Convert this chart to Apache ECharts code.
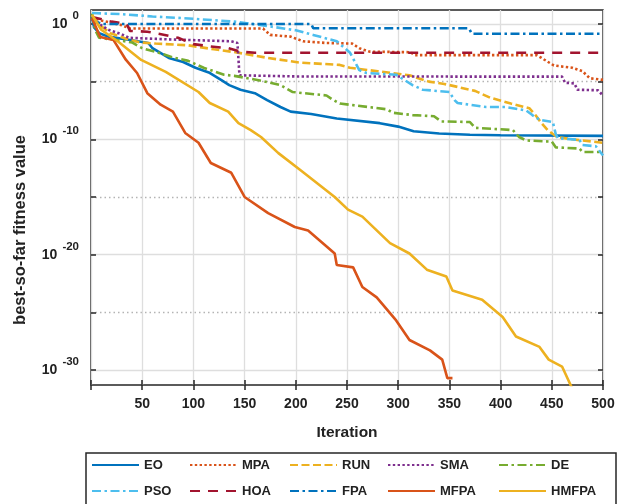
<!DOCTYPE html>
<html>
<head>
<meta charset="utf-8">
<title>Convergence curves</title>
<script src="https://cdn.jsdelivr.net/npm/echarts@6/dist/echarts.min.js"></script>
<style>
  html, body { margin: 0; padding: 0; background: #fff; }
  #chart { width: 619px; height: 504px; }
</style>
</head>
<body>
<div id="chart"></div>
<script>
// [iteration, log10(best-so-far fitness)]
const EO = [[1,0.6],[3,-0.3],[8,-0.8],[17,-1.1],[35,-1.35],[56,-1.65],[60,-2.1],[76,-2.95],[90,-3.3],[102,-3.8],[115,-4.2],[127,-4.85],[135,-5.3],[146,-5.7],[160,-6.0],[172,-6.6],[185,-7.2],[195,-7.6],[215,-7.8],[240,-8.2],[282,-8.6],[300,-8.9],[315,-9.3],[340,-9.5],[370,-9.6],[400,-9.65],[500,-9.7]];
const MPA = [[1,0.6],[10,0.3],[30,-0.1],[38,-0.4],[168,-0.4],[175,-0.95],[195,-1.1],[207,-1.5],[230,-1.65],[255,-1.7],[262,-2.1],[272,-2.4],[312,-2.45],[316,-2.7],[435,-2.7],[440,-2.95],[452,-3.6],[470,-3.8],[480,-4.1],[487,-4.7],[500,-4.85]];
const RUN = [[1,0.5],[10,-0.2],[19,-0.8],[35,-1.3],[48,-1.6],[63,-1.7],[95,-1.85],[120,-2.2],[141,-2.45],[173,-2.95],[204,-3.35],[243,-3.55],[253,-3.8],[280,-4.1],[311,-4.45],[330,-5.0],[345,-5.2],[360,-5.5],[375,-5.8],[390,-6.4],[410,-6.9],[428,-7.3],[434,-7.9],[440,-8.6],[446,-9.2],[455,-9.8],[470,-10.0],[500,-10.3]];
const SMA = [[1,0.4],[8,0.0],[17,-0.5],[30,-0.9],[37,-1.2],[80,-1.35],[137,-1.5],[143,-1.65],[145,-4.45],[200,-4.55],[460,-4.57],[463,-5.1],[472,-5.15],[475,-5.7],[495,-5.75],[500,-6.2]];
const DE = [[1,0.9],[4,-0.5],[8,-1.2],[25,-1.4],[40,-1.6],[50,-2.1],[70,-2.6],[80,-2.9],[95,-3.2],[110,-3.8],[130,-4.4],[140,-4.5],[165,-4.9],[185,-5.3],[197,-5.9],[230,-6.2],[235,-6.5],[243,-6.9],[289,-7.4],[295,-7.7],[314,-7.9],[335,-8.0],[342,-8.45],[370,-8.5],[375,-9.0],[412,-9.2],[418,-9.8],[425,-10.1],[450,-10.2],[454,-10.7],[477,-10.8],[480,-11.1],[500,-11.1]];
const PSO = [[1,0.95],[30,0.85],[60,0.65],[100,0.45],[140,0.2],[170,-0.15],[200,-0.55],[217,-0.95],[240,-1.5],[253,-2.5],[262,-4.0],[269,-4.25],[298,-4.4],[314,-5.3],[324,-5.7],[350,-5.9],[355,-6.6],[358,-6.85],[386,-7.2],[405,-7.2],[425,-7.5],[431,-7.9],[438,-8.3],[451,-8.5],[454,-9.6],[456,-9.9],[477,-10.05],[480,-10.5],[493,-10.6],[500,-11.4]];
const HOA = [[1,0.6],[20,0.2],[35,0.0],[38,-0.6],[55,-0.67],[72,-0.95],[85,-1.2],[100,-1.75],[117,-1.95],[134,-2.1],[146,-2.4],[160,-2.5],[500,-2.5]];
const FPA = [[1,0.4],[10,0.0],[215,0.0],[217,-0.37],[369,-0.37],[372,-0.85],[500,-0.85]];
const MFPA = [[1,0.5],[9,-1.13],[22,-1.4],[34,-3.1],[45,-4.25],[55,-6.0],[68,-7.0],[80,-7.6],[92,-9.45],[105,-10.3],[117,-12.05],[137,-12.9],[150,-15.0],[173,-16.4],[199,-17.6],[212,-17.9],[238,-19.9],[240,-20.9],[256,-21.1],[265,-22.8],[279,-23.7],[298,-25.7],[311,-27.4],[331,-28.3],[343,-29.1],[348,-30.7],[353,-30.7]];
const HMFPA = [[1,0.8],[10,-0.5],[27,-1.56],[49,-3.12],[73,-4.16],[105,-5.9],[116,-6.85],[134,-7.6],[144,-8.6],[156,-9.2],[166,-9.8],[183,-11.2],[205,-12.7],[238,-15.0],[251,-16.1],[265,-16.7],[292,-19.0],[311,-19.9],[328,-21.3],[347,-21.9],[353,-23.1],[382,-23.9],[402,-25.4],[415,-27.1],[438,-28.0],[447,-29.1],[460,-29.7],[472,-32]];

const names = ['EO', 'MPA', 'RUN', 'SMA', 'DE', 'PSO', 'HOA', 'FPA', 'MFPA', 'HMFPA'];
const curves = [EO, MPA, RUN, SMA, DE, PSO, HOA, FPA, MFPA, HMFPA];
const majorTicks = [1e-30, 1e-20, 1e-10, 1];
const minorTicks = [1e-25, 1e-15, 1e-5];

// styles
const colors = ['#0072BD', '#D95319', '#EDB120', '#7E2F8E', '#77AC30', '#4DBEEE', '#A2142F', '#0072BD', '#D95319', '#EDB120'];
const dotted = [2.4, 2.4];
const dashDot = [9, 3.5, 2.5, 3.5];
const dashes = ['solid', dotted, [8, 3.5], dotted, dashDot, dashDot, [10, 8], dashDot, 'solid', 'solid'];

const FONT = '"Liberation Sans", Arial, Helvetica, sans-serif';
const TXT = '#222';
const yMin = Math.pow(10, -31.3), yMax = Math.pow(10, 1.21);
const tickStyle = { color: '#262626', width: 1.5 };

const chart = echarts.init(document.getElementById('chart'));

const series = curves.map((c, i) => ({
  name: names[i],
  type: 'line',
  symbol: 'none',
  data: c.map(p => [p[0], Math.pow(10, p[1])]),
  lineStyle: { color: colors[i], width: 2.6, type: dashes[i] },
  itemStyle: { color: colors[i] }
}));

const legendCols = [['EO', 'PSO'], ['MPA', 'HOA'], ['RUN', 'FPA'], ['SMA', 'MFPA'], ['DE', 'HMFPA']];
const legendLeft = [91, 189, 289, 387, 498];

chart.setOption({
  animation: false,
  backgroundColor: '#fff',
  grid: { left: 91, right: 16, top: 10, bottom: 119, show: true, borderColor: '#262626', borderWidth: 1.5 },
  legend: legendCols.map((col, i) => ({
    data: col,
    orient: 'vertical',
    left: legendLeft[i],
    top: 458,
    padding: 0,
    itemWidth: 47,
    itemHeight: 14,
    itemGap: 12,
    selectedMode: false,
    itemStyle: { color: 'rgba(0,0,0,0)', borderWidth: 0, opacity: 0 },
    textStyle: { fontSize: 13, fontWeight: 'bold', fontFamily: FONT, color: TXT, lineHeight: 14 }
  })),
  xAxis: [{
    type: 'value', min: 0, max: 500, interval: 50, position: 'bottom',
    axisLine: { show: false },
    axisTick: { inside: true, length: 5, lineStyle: tickStyle },
    axisLabel: { margin: 12, fontSize: 14, fontWeight: 'bold', fontFamily: FONT, color: TXT,
      formatter: v => v === 0 ? '' : String(v) },
    splitLine: { show: true, lineStyle: { color: '#dedede', width: 1.3 } },
    name: 'Iteration', nameLocation: 'middle', nameGap: 40,
    nameTextStyle: { fontSize: 15.5, fontWeight: 'bold', fontFamily: FONT, color: TXT }
  }, {
    type: 'value', min: 0, max: 500, interval: 50, position: 'top',
    axisLine: { show: false },
    axisTick: { inside: true, length: 5, lineStyle: tickStyle },
    axisLabel: { show: false },
    splitLine: { show: false }
  }],
  yAxis: [{
    type: 'log', logBase: 10, min: yMin, max: yMax, position: 'left',
    axisLine: { show: false },
    axisTick: { inside: true, length: 5, customValues: majorTicks, lineStyle: tickStyle },
    axisLabel: {
      customValues: majorTicks, margin: 12,
      formatter: v => '{b|10}{s|' + Math.round(Math.log10(v)) + '}',
      rich: {
        b: { fontSize: 14, fontWeight: 'bold', fontFamily: FONT, color: TXT, lineHeight: 28 },
        s: { fontSize: 11.5, fontWeight: 'bold', fontFamily: FONT, color: TXT, lineHeight: 12,
             verticalAlign: 'top', padding: [0, 0, 0, 5] }
      }
    },
    splitLine: { show: true, lineStyle: { color: '#dedede', width: 1.3 } }
  }, {
    type: 'log', logBase: 10, min: yMin, max: yMax, position: 'left',
    axisLine: { show: false },
    axisTick: { inside: true, length: 5, customValues: minorTicks, lineStyle: tickStyle },
    axisLabel: { show: false },
    splitLine: { show: true, lineStyle: { color: '#b4b4b4', width: 1.3, type: [1.5, 3] } }
  }, {
    type: 'log', logBase: 10, min: yMin, max: yMax, position: 'right',
    axisLine: { show: false },
    axisTick: { inside: true, length: 5, customValues: majorTicks.concat(minorTicks), lineStyle: tickStyle },
    axisLabel: { show: false },
    splitLine: { show: false }
  }],
  graphic: [{
    type: 'rect', silent: true,
    shape: { x: 86, y: 453, width: 530, height: 70 },
    style: { fill: 'none', stroke: '#262626', lineWidth: 1.5 }
  }, {
    type: 'text', silent: true, x: 20, y: 230, rotation: Math.PI / 2,
    style: { text: 'best-so-far fitness value', font: 'bold 16.5px ' + FONT, fill: TXT,
             align: 'center', verticalAlign: 'middle' }
  }],
  series: series
});
</script>
</body>
</html>
